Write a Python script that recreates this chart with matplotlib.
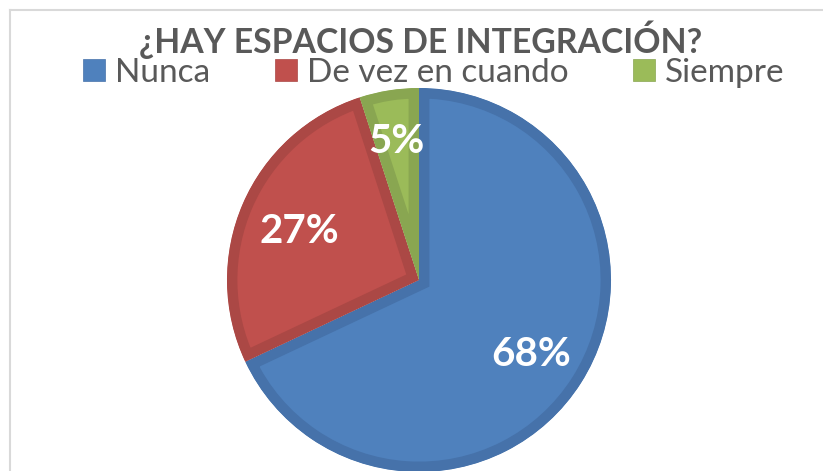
import numpy as np
import matplotlib
matplotlib.use('Agg')
import matplotlib.pyplot as plt
from matplotlib.patches import Patch
from matplotlib.lines import Line2D

plt.rcParams['font.family'] = ['Lato', 'DejaVu Sans']

# datos
categorias = ['Nunca', 'De vez en cuando', 'Siempre']
porcentajes = [68, 27, 5]
titulo = '¿HAY ESPACIOS DE INTEGRACIÓN?'

colores = ['#4F81BD', '#C0504D', '#9BBB59']
bordes = ['#4672AA', '#AB4845', '#89A651']
dist_etiqueta = [0.69, 0.68, 0.75]
gris = '#595959'

W, H = 823, 471
cx, cy, r = 419, 280, 192  # centro y radio del pastel en pixeles

fig = plt.figure(figsize=(W / 100, H / 100), dpi=100)
ax = fig.add_axes([0, 0, 1, 1])

wedges, _ = ax.pie(porcentajes, colors=colores, startangle=90,
                   counterclock=False, radius=1)

ax.set_xlim(-cx / r, (W - cx) / r)
ax.set_ylim(-(H - cy) / r, cy / r)
ax.set_aspect('equal')
ax.axis('off')

# borde interior de cada porcion (trazo recortado por la propia porcion)
for w, b in zip(wedges, bordes):
    w.set_edgecolor(b)
    w.set_linewidth(15)
    w.set_joinstyle('miter')
    w.set_clip_on(True)
    w.set_clip_path(w.get_path(), w.get_transform())

# etiquetas de porcentaje
for w, p, d in zip(wedges, porcentajes, dist_etiqueta):
    ang = np.deg2rad((w.theta1 + w.theta2) / 2)
    ax.text(d * np.cos(ang), d * np.sin(ang), f'{p}%', ha='center', va='center_baseline',
            color='white', fontsize=29, fontweight='bold')

# titulo
fig.text(421 / W, 1 - 40 / H, titulo, ha='center', va='center',
         fontsize=24.3, fontweight='bold', color=gris)

# leyenda
handles = [Patch(facecolor=c, edgecolor=b, linewidth=0.5) for c, b in zip(colores, bordes)]
fig.legend(handles, categorias, loc='center', bbox_to_anchor=(434 / W, 1 - 73 / H),
           ncol=3, frameon=False, fontsize=24, labelcolor=gris,
           handlelength=0.65, handleheight=0.65, handletextpad=0.3,
           columnspacing=1.95, borderpad=0, borderaxespad=0)

# marco del grafico
fig.add_artist(Line2D([10 / W, 10 / W], [0, 1 - 10 / H], color='#D9D9D9', lw=1.5))
fig.add_artist(Line2D([10 / W, 1], [1 - 10 / H, 1 - 10 / H], color='#D9D9D9', lw=1.5))

fig.savefig('out.png', dpi=100)
